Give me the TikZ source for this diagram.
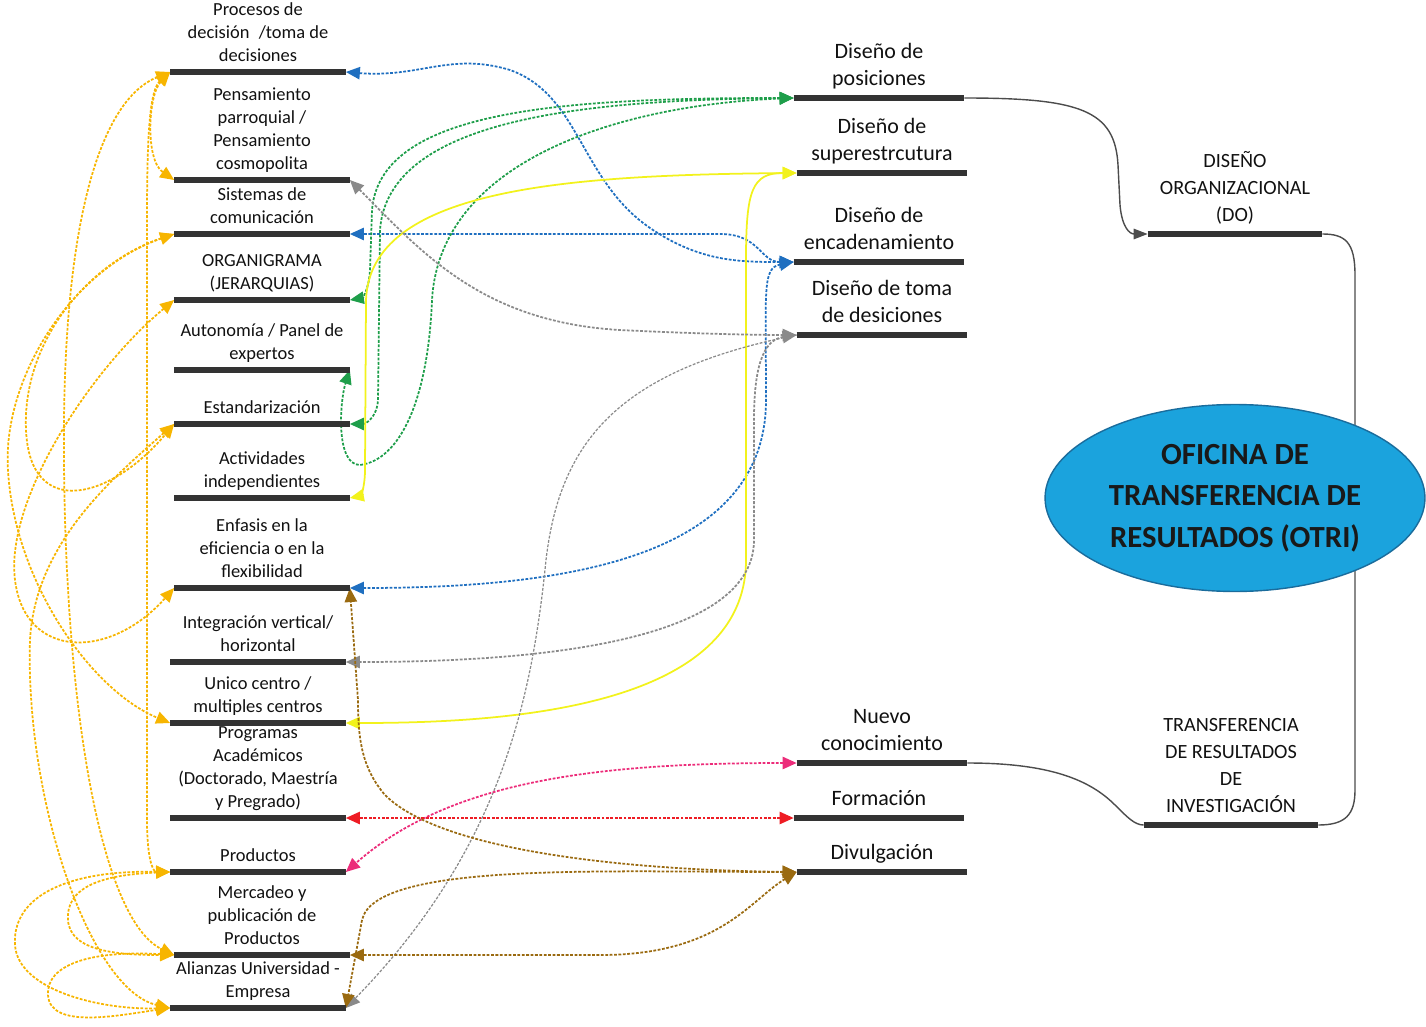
\documentclass[tikz,border=0pt]{standalone}
\usepackage{fontspec}
\setmainfont{Carlito}
\usetikzlibrary{arrows.meta,shapes.geometric}

\definecolor{texto}{HTML}{111111}
\definecolor{barragris}{HTML}{333333}
\definecolor{azul}{HTML}{1F6FC0}
\definecolor{verde}{HTML}{1E9E4A}
\definecolor{amarillo}{HTML}{F2F21C}
\definecolor{gris}{HTML}{8A8A8A}
\definecolor{rosa}{HTML}{EC2C7A}
\definecolor{rojo}{HTML}{EE1C24}
\definecolor{cafe}{HTML}{9A6A10}
\definecolor{oro}{HTML}{F7B500}
\definecolor{celeste}{HTML}{1BA3DD}
\definecolor{celesteborde}{HTML}{1A6C9C}

\tikzset{
tema/.style={font=\fontsize{10.5}{13}\selectfont, align=center, anchor=south, minimum width=3.5cm, inner xsep=0pt, inner ysep=2pt, execute at end node=\strut, text=texto},
diseno/.style={tema, font=\fontsize{12.5}{15.5}\selectfont, minimum width=3.4cm},
mayor/.style={tema, font=\fontsize{11.5}{15.5}\selectfont, minimum width=3.48cm},
barra/.style={line width=3.8pt, draw=barragris},
flecha/.style={line width=1pt, dash pattern=on 1.6pt off 0.9pt, {Triangle[length=8pt,width=7pt]}-{Triangle[length=8pt,width=7pt]}},
guia/.style={line width=0.8pt, draw=black!70}
}

\begin{document}
\begin{tikzpicture}[x=0.02cm,y=-0.02cm]
\useasboundingbox (0,0) rectangle (1426,1027);

% columna izquierda
\node[tema] (proc) at (258,72) {Procesos de\\decisión \;/toma de\\decisiones};
\node[tema] (pens) at (262,180) {Pensamiento\\parroquial /\\Pensamiento\\cosmopolita};
\node[tema] (sist) at (262,234) {Sistemas de\\comunicación};
\node[tema] (orga) at (262,300) {ORGANIGRAMA\\(JERARQUIAS)};
\node[tema] (auto) at (262,370) {Autonomía / Panel de\\expertos};
\node[tema] (esta) at (262,424) {Estandarización};
\node[tema] (acti) at (262,498) {Actividades\\independientes};
\node[tema] (enfa) at (262,588) {Enfasis en la\\eficiencia o en la\\flexibilidad};
\node[tema] (inte) at (258,662) {Integración vertical/\\horizontal};
\node[tema] (unic) at (258,723) {Unico centro /\\multiples centros};
\node[tema] (prog) at (258,818) {Programas\\Académicos\\(Doctorado, Maestría\\y Pregrado)};
\node[tema] (prod) at (258,872) {Productos};
\node[tema] (merc) at (262,955) {Mercadeo y\\publicación de\\Productos};
\node[tema] (alia) at (258,1008) {Alianzas Universidad -\\Empresa};

% columna central
\node[diseno] (dpos) at (879,98) {Diseño de\\posiciones};
\node[diseno] (dsup) at (882,173) {Diseño de\\superestrcutura};
\node[diseno] (denc) at (879,262) {Diseño de\\encadenamiento};
\node[diseno] (dtom) at (882,335) {Diseño de toma\\de desiciones};
\node[diseno] (nuev) at (882,763) {Nuevo\\conocimiento};
\node[diseno] (form) at (879,818) {Formación};
\node[diseno] (divu) at (882,872) {Divulgación};

% columna derecha
\node[mayor] (dorg) at (1235,234) {DISEÑO\\ORGANIZACIONAL\\(DO)};
\node[mayor] (tres) at (1231,825) {TRANSFERENCIA\\DE RESULTADOS\\DE\\INVESTIGACIÓN};

% guias negras
\draw[guia, -{Triangle[length=8pt,width=6pt]}] (dpos.south east) .. controls (1080,98) and (1115,110) .. (1118,165) -- (1120,205) .. controls (1122,228) and (1130,234) .. (dorg.south west);
\draw[guia] (dorg.south east) .. controls (1345,234) and (1355,242) .. (1355,275) -- (1355,790) .. controls (1355,815) and (1345,825) .. (tres.south east);
\draw[guia] (nuev.south east) .. controls (1050,763) and (1090,780) .. (1115,805) .. controls (1128,818) and (1135,825) .. (tres.south west);

% azul
\draw[flecha, azul] (proc.south east) .. controls (420,78) and (450,52) .. (510,70) .. controls (580,95) and (580,180) .. (650,228) .. controls (700,262) and (740,262) .. (denc.south west);
\draw[flecha, azul] (denc.south west) .. controls (760,262) and (760,234) .. (720,234) -- (sist.south east);
\draw[flecha, azul] (denc.south west) .. controls (762,268) and (766,290) .. (766,400) .. controls (766,560) and (560,588) .. (enfa.south east);

% verde
\draw[flecha, verde] (dpos.south west) .. controls (560,98) and (380,110) .. (372,210) -- (370,270) .. controls (369,290) and (362,298) .. (orga.south east);
\draw[flecha, verde] (dpos.south west) .. controls (580,100) and (388,120) .. (380,230) -- (378,400) .. controls (377,418) and (365,424) .. (esta.south east);
\draw[flecha, verde] (dpos.south west) .. controls (620,105) and (440,160) .. (432,300) .. controls (428,400) and (400,460) .. (360,465) .. controls (335,465) and (340,400) .. (auto.south east);

% amarillo
\draw[line width=1pt, amarillo, {Triangle[length=8pt,width=7pt]}-{Triangle[length=8pt,width=7pt]}] (dsup.south west) .. controls (560,175) and (370,190) .. (366,300) -- (365,470) .. controls (365,488) and (360,496) .. (acti.south east);
\draw[line width=1pt, amarillo, {Triangle[length=8pt,width=7pt]}-{Triangle[length=8pt,width=7pt]}] (dsup.south west) .. controls (752,173) and (746,190) .. (746,260) -- (746,560) .. controls (746,710) and (500,723) .. (unic.south east);

% gris
\draw[flecha, gris] (pens.south east) .. controls (420,250) and (480,322) .. (620,330) .. controls (700,334) and (760,335) .. (dtom.south west);
\draw[flecha, gris] (dtom.south west) .. controls (762,340) and (754,370) .. (754,420) -- (754,540) .. controls (754,650) and (500,662) .. (inte.south east);
\draw[line width=0.7pt, dash pattern=on 1.6pt off 0.9pt, gris, -{Triangle[length=8pt,width=7pt]}] (dtom.south west) .. controls (620,370) and (560,440) .. (546,560) .. controls (532,700) and (500,850) .. (alia.south east);

% rojo y rosa
\draw[flecha, rosa] (nuev.south west) .. controls (600,763) and (450,780) .. (prod.south east);
\draw[flecha, rojo] (form.south west) -- (prog.south east);

% cafe
\draw[flecha, cafe] (divu.south west) .. controls (620,870) and (440,850) .. (385,795) .. controls (362,768) and (358,740) .. (358,700) -- (enfa.south east);
\draw[flecha, cafe] (divu.south west) .. controls (750,900) and (720,955) .. (600,955) -- (merc.south east);
\draw[flecha, cafe] (divu.south west) .. controls (600,872) and (375,862) .. (362,920) -- (alia.south east);

% oro (lazos de la izquierda)
\draw[flecha, oro] (proc.south west) .. controls (148,95) and (145,160) .. (pens.south west);
\draw[flecha, oro] (proc.south west) .. controls (150,90) and (147,130) .. (147,220) -- (147,820) .. controls (147,855) and (152,872) .. (prod.south west);
\draw[flecha, oro] (proc.south west) .. controls (100,100) and (66,220) .. (64,420) .. controls (62,700) and (100,920) .. (merc.south west);
\draw[flecha, oro] (sist.south west) .. controls (70,270) and (2,380) .. (8,470) .. controls (14,580) and (90,690) .. (unic.south west);
\draw[flecha, oro] (sist.south west) .. controls (90,262) and (22,340) .. (26,430) .. controls (30,520) and (110,500) .. (esta.south west);
\draw[flecha, oro] (orga.south west) .. controls (90,370) and (5,500) .. (15,580) .. controls (25,660) and (110,660) .. (enfa.south west);
\draw[flecha, oro] (esta.south west) .. controls (110,480) and (35,545) .. (30,640) .. controls (25,800) and (90,990) .. (alia.south west);
\draw[flecha, oro] (prod.south west) .. controls (60,870) and (12,900) .. (15,945) .. controls (18,990) and (100,1010) .. (alia.south west);
\draw[flecha, oro] (prod.south west) .. controls (95,875) and (66,890) .. (68,920) .. controls (70,952) and (120,955) .. (merc.south west);
\draw[flecha, oro] (merc.south west) .. controls (90,950) and (46,965) .. (48,995) .. controls (50,1030) and (120,1015) .. (alia.south west);

% barras
\foreach \n in {proc,pens,sist,orga,auto,esta,acti,enfa,inte,unic,prog,prod,merc,alia,dpos,dsup,denc,dtom,nuev,form,divu,dorg,tres}
  \draw[barra] (\n.south west) -- (\n.south east);

% nodo central
\node[ellipse, fill=celeste, draw=celesteborde, line width=0.8pt, minimum width=7.6cm, minimum height=3.74cm, inner sep=0pt, align=center, text=black!90, font=\fontsize{17.5}{23.5}\selectfont\bfseries] (otri) at (1235,498) {OFICINA DE\\TRANSFERENCIA DE\\RESULTADOS (OTRI)};
\end{tikzpicture}
\end{document}
